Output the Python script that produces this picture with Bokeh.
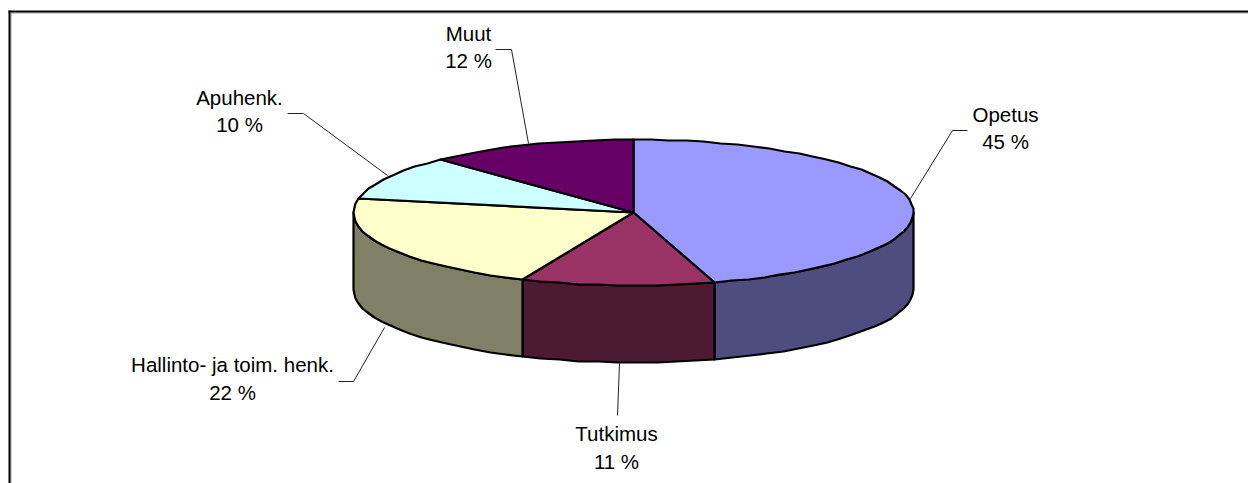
import numpy as np
from bokeh.plotting import figure
from bokeh.models import Range1d
from bokeh.embed import file_html
from bokeh.resources import INLINE
from bokeh.core.properties import value

categories = ["Opetus", "Tutkimus", "Hallinto- ja toim. henk.", "Apuhenk.", "Muut"]
shares = [45.3, 11.2, 21.6, 9.8, 12.1]
share_labels = ["45 %", "11 %", "22 %", "10 %", "12 %"]
top_colors = ["#9999FF", "#993366", "#FFFFCC", "#CCFFFF", "#660066"]
side_colors = ["#4D4D80", "#4D1A33", "#808066", "#668080", "#330033"]

W, H = 1248, 483
CX, CY, RX, RY, DEPTH = 633, 212, 280, 73, 77

p = figure(width=W, height=H, output_backend="svg", toolbar_location=None,
           x_range=Range1d(0, W), y_range=Range1d(H, 0), min_border=0,
           x_axis_type=None, y_axis_type=None, outline_line_color=None)
p.grid.visible = False
p.background_fill_color = "white"
p.border_fill_color = "white"


def rim(a0, a1):
    # pixel-snapped outline like the reference's slightly polygonal rim
    t = np.radians(np.linspace(a0, a1, max(3, int(abs(a1 - a0) / 3.5))))
    return np.round(CX + RX * np.sin(t)), np.round(CY - RY * np.cos(t))


edges = np.concatenate([[0], np.cumsum(shares)]) / sum(shares) * 360

# visible sides first (front half of the disc)
for i in range(len(shares)):
    a0, a1 = max(edges[i], 90), min(edges[i + 1], 270)
    if a1 <= a0:
        continue
    x, y = rim(a0, a1)
    p.patch(np.r_[x, x[::-1]], np.r_[y, y[::-1] + DEPTH],
            fill_color=side_colors[i], line_color="black", line_width=2.2, line_join="round")

# top faces
for i in range(len(shares)):
    x, y = rim(edges[i], edges[i + 1])
    p.patch(np.r_[CX, x], np.r_[CY, y],
            fill_color=top_colors[i], line_color="black", line_width=2.2, line_join="round")

# leader lines
leaders = {
    0: ([910, 952, 967], [198, 130, 130]),
    1: ([619, 617], [363, 415]),
    2: ([384, 353, 338], [327, 381, 381]),
    3: ([387, 303, 287], [175, 113, 113]),
    4: ([528, 511, 495], [143, 49, 49]),
}
for xs, ys in leaders.values():
    p.line(xs, ys, line_color="#222222", line_width=1)

name_pos = [(1005, 114), (616, 433), (232, 364), (239, 97), (468, 33)]
share_pos = [(1005, 141), (616, 461), (232, 392), (239, 124), (468, 60)]
for i in range(len(categories)):
    p.text([name_pos[i][0]], [name_pos[i][1]], text=[categories[i]], text_font=value("Liberation Sans"),
           text_font_size="20.5px", text_color="black", text_align="center", text_baseline="middle")
    p.text([share_pos[i][0]], [share_pos[i][1]], text=[share_labels[i]], text_font=value("Liberation Sans"),
           text_font_size="20.5px", text_color="black", text_align="center", text_baseline="middle")

# chart frame: grey fringe, then top and left black edges
p.line([10.5, W], [12.5, 12.5], line_color="#A0A0A0", line_width=1)
p.line([10.5, 10.5], [12.5, H], line_color="#A0A0A0", line_width=1)
p.line([8, W], [11, 11], line_color="black", line_width=2)
p.line([9, 9], [10, H], line_color="black", line_width=2)

open("out.html", "w").write(file_html(p, INLINE))
